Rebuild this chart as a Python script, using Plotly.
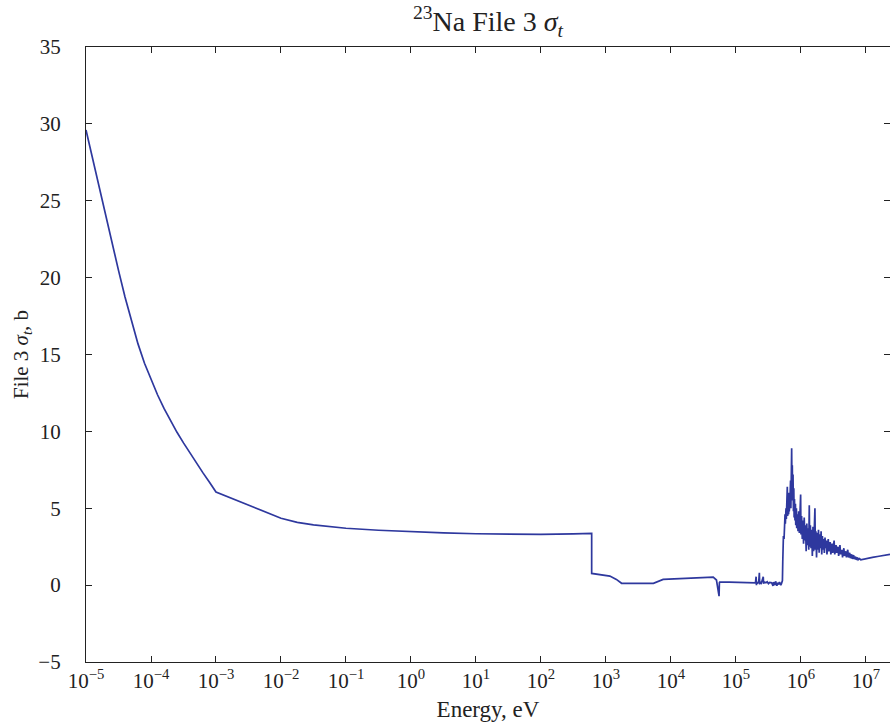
import plotly.graph_objects as go

# log10 of energy (eV) and total cross section (barns)
log10_energy_eV = [
    -5.0, -4.9, -4.8, -4.7, -4.6, -4.5, -4.4, -4.3, -4.2, -4.1, -4.0,
    -3.9, -3.8, -3.7, -3.6, -3.5, -3.4, -3.3, -3.2, -3.1, -3.0,
    -2.0, -1.75, -1.5, -1.25, -1.0, -0.5, 0.0, 0.5, 1.0, 1.5, 2.0, 2.5, 2.78,
    2.78, 2.9, 3.06, 3.16, 3.24, 3.5, 3.73, 3.88, 4.1, 4.34, 4.5, 4.65, 4.70,
    4.74, 4.745, 4.75, 4.9, 5.1, 5.29,
    5.30, 5.31, 5.315, 5.32, 5.33, 5.35, 5.36, 5.365, 5.37, 5.39, 5.40, 5.42,
    5.425, 5.44, 5.46, 5.48, 5.50, 5.52, 5.55, 5.57, 5.58, 5.60, 5.61, 5.63,
    5.64, 5.66, 5.67, 5.69, 5.70, 5.715, 5.72, 5.725, 5.73, 5.74, 5.75, 5.755,
    5.76, 5.77, 5.775, 5.78, 5.79, 5.795, 5.80, 5.81, 5.815, 5.82, 5.83, 5.84,
    5.845, 5.85, 5.857, 5.862, 5.867, 5.872, 5.878, 5.884, 5.89, 5.895, 5.90,
    5.908, 5.915, 5.92, 5.93, 5.935, 5.945, 5.955, 5.965, 5.975, 5.985, 5.995,
    6.00, 6.01, 6.02, 6.03, 6.04, 6.05, 6.06, 6.07, 6.08, 6.09, 6.10, 6.11,
    6.12, 6.128, 6.135, 6.145, 6.155, 6.165, 6.175, 6.185, 6.195, 6.205, 6.215,
    6.222, 6.23, 6.24, 6.25, 6.26, 6.27, 6.28, 6.29, 6.30, 6.31, 6.32, 6.33,
    6.34, 6.35, 6.36, 6.37, 6.38, 6.39, 6.40, 6.42, 6.43, 6.45, 6.46, 6.48,
    6.49, 6.51, 6.52, 6.54, 6.55, 6.57, 6.58, 6.60, 6.61, 6.63, 6.64, 6.66,
    6.67, 6.69, 6.70, 6.72, 6.73, 6.75, 6.76, 6.78, 6.79, 6.81, 6.82, 6.84,
    6.85, 6.87, 6.88, 6.90, 6.92, 6.95, 7.00, 7.10, 7.20, 7.30, 7.37,
]
sigma_t_b = [
    29.6, 27.75, 25.91, 24.08, 22.26, 20.47, 18.74, 17.13, 15.69, 14.43, 13.34,
    12.38, 11.49, 10.68, 9.94, 9.25, 8.58, 7.93, 7.30, 6.69, 6.06,
    4.35, 4.08, 3.92, 3.8, 3.7, 3.57, 3.47, 3.4, 3.34, 3.3, 3.3, 3.33, 3.36,
    0.76, 0.68, 0.59, 0.37, 0.12, 0.12, 0.12, 0.37, 0.40, 0.44, 0.47, 0.52, 0.33,
    -0.72, 0.16, 0.2, 0.2, 0.18, 0.18,
    0.15, 0.55, 0.0, 0.2, 0.1, 0.22, 0.8, 0.05, 0.2, 0.12, 0.25, 0.55,
    0.1, 0.2, 0.15, 0.22, 0.1, 0.18, 0.15, -0.05, 0.2, 0.0, 0.25, -0.05,
    0.15, 0.05, 0.2, 0.0, 0.1, 0.3, 1.5, 2.5, 3.2, 3.0, 3.9, 4.6,
    4.0, 5.0, 4.3, 4.8, 6.4, 4.5, 5.2, 4.6, 6.0, 4.8, 5.4, 6.8,
    5.0, 6.5, 8.9, 6.2, 7.8, 5.5, 7.2, 4.8, 6.3, 4.4, 5.6,
    4.2, 5.3, 3.9, 5.0, 3.7, 4.6, 3.5, 4.8, 3.4, 4.2, 5.9,
    3.3, 4.5, 3.0, 4.2, 2.7, 4.4, 2.9, 3.9, 2.2, 4.0, 2.6, 3.7,
    2.3, 5.2, 2.5, 3.9, 2.4, 3.6, 1.9, 3.8, 2.2, 4.0, 5.0,
    2.3, 3.5, 1.8, 3.4, 2.3, 3.6, 2.1, 3.3, 2.4, 3.5, 2.0, 3.2,
    2.3, 3.0, 2.1, 3.1, 2.4, 2.9, 2.0, 3.0, 2.2, 2.8, 2.0, 2.7,
    2.1, 2.9, 2.0, 2.6, 2.1, 2.5, 1.9, 2.6, 2.0, 2.3, 1.8, 2.4,
    1.9, 2.2, 1.8, 2.3, 1.8, 2.1, 1.75, 2.0, 1.7, 1.95, 1.7, 1.85,
    1.65, 1.8, 1.65, 1.72, 1.65, 1.68, 1.7, 1.8, 1.88, 1.97, 2.0,
]
energy_eV = [10 ** v for v in log10_energy_eV]

x_tick_exponents = [-5, -4, -3, -2, -1, 0, 1, 2, 3, 4, 5, 6, 7]
x_tick_vals = [10.0 ** k for k in x_tick_exponents]
x_tick_text = ["10<sup>%s</sup>" % (str(k).replace("-", "\u2212")) for k in x_tick_exponents]
y_tick_vals = [-5, 0, 5, 10, 15, 20, 25, 30, 35]

FONT = "Liberation Serif"
INK = "#222222"

fig = go.Figure()
fig.add_trace(go.Scatter(
    x=energy_eV, y=sigma_t_b, mode="lines",
    line=dict(color="rgb(46,56,158)", width=1.7),
    showlegend=False, hoverinfo="skip",
))

fig.update_layout(
    width=890, height=725,
    margin=dict(l=86, r=0, t=47, b=63),
    paper_bgcolor="white", plot_bgcolor="white",
    font=dict(family=FONT, color=INK, size=21),
    title=dict(
        text="<sup>23</sup>Na File 3 <i>σ<sub>t</sub></i>",
        x=0.5, xanchor="center", xref="paper",
        y=1 - 21 / 725, yanchor="middle",
        font=dict(family=FONT, size=28, color=INK),
    ),
)
fig.update_xaxes(
    type="log", range=[-5, 7.37],
    tickmode="array", tickvals=x_tick_vals, ticktext=x_tick_text,
    ticks="inside", ticklen=6, tickcolor=INK, tickwidth=1,
    showline=True, linecolor=INK, linewidth=1.2, mirror="ticks",
    showgrid=False, zeroline=False,
    tickfont=dict(family=FONT, size=21),
    title=dict(text="Energy, eV", font=dict(family=FONT, size=23), standoff=8),
)
fig.update_yaxes(
    range=[-5, 35],
    tickmode="array", tickvals=y_tick_vals,
    ticks="inside", ticklen=6, tickcolor=INK, tickwidth=1,
    showline=True, linecolor=INK, linewidth=1.2, mirror="ticks",
    showgrid=False, zeroline=False,
    tickfont=dict(family=FONT, size=21),
    ticklabelstandoff=20,
    title=dict(text="File 3 <i>σ<sub>t</sub></i>, b", font=dict(family=FONT, size=21), standoff=4),
)

fig.write_html("out.html")
